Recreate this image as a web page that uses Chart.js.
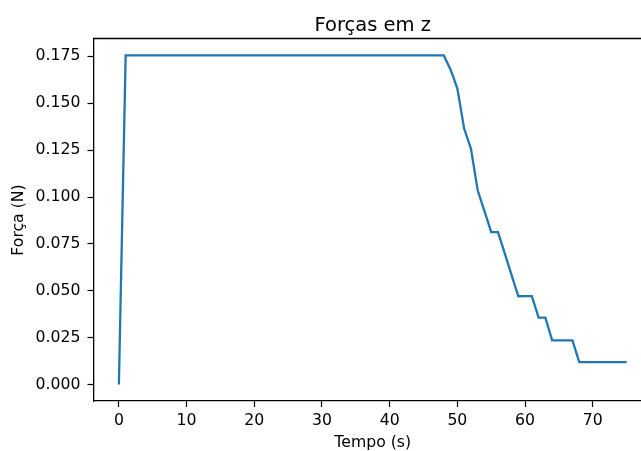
<!DOCTYPE html>
<html>
<head>
<meta charset="utf-8">
<script src="https://cdn.jsdelivr.net/npm/chart.js@4"></script>
<style>
    html, body { margin: 0; padding: 0; background: #fff; overflow: hidden; }
    #wrap { width: 660px; height: 451px; }
</style>
</head>
<body>
<div id="wrap"><canvas id="forceChart" width="660" height="451"></canvas></div>
<script>
// Tempo (s) - one sample per second
const times = [
    0, 1, 2, 3, 4, 5, 6, 7, 8, 9,
    10, 11, 12, 13, 14, 15, 16, 17, 18, 19,
    20, 21, 22, 23, 24, 25, 26, 27, 28, 29,
    30, 31, 32, 33, 34, 35, 36, 37, 38, 39,
    40, 41, 42, 43, 44, 45, 46, 47, 48, 49,
    50, 51, 52, 53, 54, 55, 56, 57, 58, 59,
    60, 61, 62, 63, 64, 65, 66, 67, 68, 69,
    70, 71, 72, 73, 74, 75
];

// Força em z (N)
const forces = [
    0.0, 0.1755, 0.1755, 0.1755, 0.1755, 0.1755, 0.1755, 0.1755, 0.1755, 0.1755,
    0.1755, 0.1755, 0.1755, 0.1755, 0.1755, 0.1755, 0.1755, 0.1755, 0.1755, 0.1755,
    0.1755, 0.1755, 0.1755, 0.1755, 0.1755, 0.1755, 0.1755, 0.1755, 0.1755, 0.1755,
    0.1755, 0.1755, 0.1755, 0.1755, 0.1755, 0.1755, 0.1755, 0.1755, 0.1755, 0.1755,
    0.1755, 0.1755, 0.1755, 0.1755, 0.1755, 0.1755, 0.1755, 0.1755, 0.1755, 0.1679,
    0.1578, 0.1365, 0.1258, 0.1036, 0.0925, 0.0813, 0.0813, 0.0699, 0.0585, 0.0471,
    0.0472, 0.0472, 0.0357, 0.0357, 0.0236, 0.0236, 0.0236, 0.0236, 0.0120, 0.0120,
    0.0120, 0.0120, 0.0120, 0.0120, 0.0120, 0.0120
];

const xTicks = [0, 10, 20, 30, 40, 50, 60, 70];
const yTicks = [0, 0.025, 0.05, 0.075, 0.1, 0.125, 0.15, 0.175];

const chartTitle = 'Forças em z';
const xLabel = 'Tempo (s)';
const yLabel = 'Força (N)';

const FONT = "'DejaVu Sans', sans-serif";

// title centred over the plot area + top/right spines
const frameAndTitle = {
    id: 'frameAndTitle',
    afterDraw(chart) {
        const { ctx, chartArea } = chart;
        const top = Math.round(chartArea.top) - 0.5;
        ctx.save();
        ctx.strokeStyle = '#000';
        ctx.lineWidth = 1.3;
        ctx.beginPath();
        ctx.moveTo(chartArea.left, top);
        ctx.lineTo(chartArea.right, top);
        ctx.lineTo(chartArea.right, chartArea.bottom);
        ctx.stroke();

        ctx.fillStyle = '#000';
        ctx.font = '19.5px ' + FONT;
        ctx.textAlign = 'center';
        ctx.textBaseline = 'alphabetic';
        ctx.fillText(chartTitle, (chartArea.left + chartArea.right) / 2, 31);
        ctx.restore();
    }
};

const ctx = document.getElementById('forceChart').getContext('2d');

new Chart(ctx, {
    type: 'line',
    data: {
        datasets: [{
            label: 'Fz',
            data: times.map((t, i) => ({ x: t, y: forces[i] })),
            borderColor: '#1f77b4',
            borderWidth: 2.3,
            pointRadius: 0,
            tension: 0,
            fill: false
        }]
    },
    options: {
        responsive: false,
        animation: false,
        layout: { padding: { top: 39, right: 8, bottom: 0, left: 0 } },
        plugins: {
            legend: { display: false },
            tooltip: { enabled: false }
        },
        scales: {
            x: {
                type: 'linear',
                min: -3.75,
                max: 78.75,
                afterBuildTicks: scale => { scale.ticks = xTicks.map(v => ({ value: v })); },
                afterFit: scale => { scale.height = 50; },
                grid: {
                    drawOnChartArea: false,
                    tickLength: 6,
                    tickWidth: 1.2,
                    tickColor: '#000'
                },
                border: { color: '#000', width: 1.3 },
                ticks: {
                    color: '#000',
                    padding: 5,
                    maxRotation: 0,
                    font: { family: FONT, size: 15.7 }
                },
                title: {
                    display: true,
                    text: xLabel,
                    color: '#000',
                    padding: { top: 0, bottom: 0 },
                    font: { family: FONT, size: 15.7, lineHeight: 1 }
                }
            },
            y: {
                min: -0.008775,
                max: 0.184275,
                afterBuildTicks: scale => { scale.ticks = yTicks.map(v => ({ value: v })); },
                afterFit: scale => { scale.width = 93.5; },
                grid: {
                    drawOnChartArea: false,
                    tickLength: 6,
                    tickWidth: 1.2,
                    tickColor: '#000'
                },
                border: { color: '#000', width: 1.3 },
                ticks: {
                    color: '#000',
                    padding: 7,
                    font: { family: FONT, size: 15.7 },
                    callback: v => v.toFixed(3)
                },
                title: {
                    display: true,
                    text: yLabel,
                    color: '#000',
                    padding: { top: 9.5, bottom: 0 },
                    font: { family: FONT, size: 15.7, lineHeight: 1.2 }
                }
            }
        }
    },
    plugins: [frameAndTitle]
});
</script>
</body>
</html>
